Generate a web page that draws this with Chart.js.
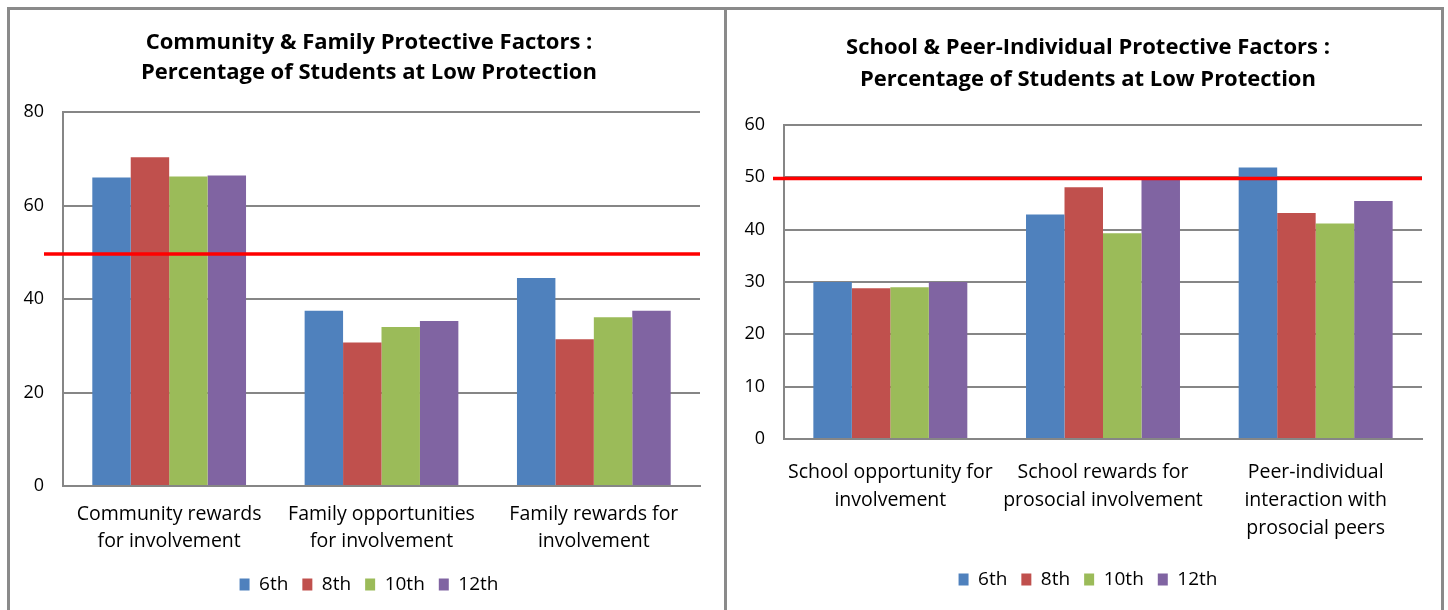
<!DOCTYPE html>
<html>
<head>
<meta charset="utf-8">
<script src="https://cdn.jsdelivr.net/npm/chart.js@4.4.1/dist/chart.umd.min.js"></script>
<style>
  html, body { margin: 0; padding: 0; background: #fff; }
  body { width: 1448px; height: 610px; position: relative; overflow: hidden; }
  .panel { position: absolute; top: 7px; height: 620px; box-sizing: border-box;
           border-top: 3px solid #8a8a8a; border-left: 3px solid #8a8a8a; }
  #leftPanel { left: 7px; width: 720px; }
  #rightPanel { left: 724px; width: 720px; border-right: 3px solid #8a8a8a; }
  canvas { position: absolute; left: 0; top: 0; }
</style>
</head>
<body>
<div class="panel" id="leftPanel"><canvas id="leftChart" width="715" height="600"></canvas></div>
<div class="panel" id="rightPanel"><canvas id="rightChart" width="714" height="600"></canvas></div>
<script>
// grades (legend)
const grades = ["6th", "8th", "10th", "12th"];
const gradeColors = ["#4f81bd", "#c0504d", "#9bbb59", "#8064a2"];

// left chart
const leftTitle = ["Community & Family Protective Factors :", "Percentage of Students at Low Protection"];
const leftCategories = [
  ["Community rewards", "for involvement"],
  ["Family opportunities", "for involvement"],
  ["Family rewards for", "involvement"]
];
const left6th = [66.0, 37.5, 44.5];
const left8th = [70.3, 30.7, 31.4];
const left10th = [66.2, 34.0, 36.1];
const left12th = [66.4, 35.3, 37.5];
const leftTicks = [0, 20, 40, 60, 80];
const leftThreshold = 49.6;

// right chart
const rightTitle = ["School & Peer-Individual Protective Factors :", "Percentage of Students at Low Protection"];
const rightCategories = [
  ["School opportunity for", "involvement"],
  ["School rewards for", "prosocial involvement"],
  ["Peer-individual", "interaction with", "prosocial peers"]
];
const right6th = [30.0, 42.9, 51.9];
const right8th = [28.8, 48.1, 43.2];
const right10th = [29.0, 39.3, 41.2];
const right12th = [30.0, 49.8, 45.5];
const rightTicks = [0, 10, 20, 30, 40, 50, 60];
const rightThreshold = 49.8;

const FONT = "'Open Sans', 'Noto Sans', sans-serif";

// red reference line drawn across the plot, from the y scale
const thresholdLine = {
  id: "thresholdLine",
  afterDatasetsDraw(chart, args, opts) {
    const { ctx, chartArea, scales } = chart;
    const y = scales.y.getPixelForValue(opts.value);
    ctx.save();
    ctx.strokeStyle = "#ff0000";
    ctx.lineWidth = 3.5;
    ctx.beginPath();
    ctx.moveTo(chartArea.left - opts.overhang, y);
    ctx.lineTo(chartArea.right, y);
    ctx.stroke();
    ctx.restore();
  }
};

// title and legend are centred on the panel, not on the plot
const recenter = {
  id: "recenter",
  afterLayout(chart, args, opts) {
    [chart.titleBlock, chart.legend].forEach(box => {
      if (!box) return;
      const dx = opts.center - (box.left + box.right) / 2;
      box.left += dx;
      box.right += dx;
    });
  }
};

function buildChart(id, cfg) {
  const seriesList = cfg.series;
  const datasets = grades.map((g, i) => ({
    label: g,
    data: seriesList[i],
    backgroundColor: gradeColors[i],
    borderWidth: 0,
    barPercentage: 1,
    categoryPercentage: 0.724
  }));

  return new Chart(document.getElementById(id), {
    type: "bar",
    data: { labels: cfg.categories, datasets: datasets },
    plugins: [thresholdLine, recenter],
    options: {
      responsive: false,
      animation: false,
      layout: { padding: cfg.padding },
      plugins: {
        title: {
          display: true,
          text: cfg.title,
          color: "#000",
          font: { family: FONT, size: 22, weight: "bold", lineHeight: cfg.titleLine },
          padding: cfg.titlePadding
        },
        legend: {
          position: "bottom",
          labels: {
            color: "#000",
            font: { family: FONT, size: 19 },
            boxWidth: 10,
            boxHeight: 12,
            padding: 14
          }
        },
        tooltip: { enabled: false },
        thresholdLine: { value: cfg.threshold, overhang: cfg.overhang },
        recenter: { center: cfg.center }
      },
      scales: {
        x: {
          grid: { display: false, drawTicks: false },
          border: { display: true, color: "#868686", width: 2 },
          ticks: {
            color: "#000",
            padding: cfg.xPad,
            maxRotation: 0,
            autoSkip: false,
            font: { family: FONT, size: 19.5, lineHeight: cfg.xLine }
          },
          afterFit: s => { s.height = cfg.xHeight; }
        },
        y: {
          min: cfg.ticks[0],
          max: cfg.ticks[cfg.ticks.length - 1],
          afterBuildTicks: s => { s.ticks = cfg.ticks.map(v => ({ value: v })); },
          grid: { color: "#868686", lineWidth: 2, drawTicks: false },
          border: { display: true, color: "#868686", width: 2 },
          ticks: {
            color: "#000",
            padding: 19,
            font: { family: FONT, size: 18 }
          },
          afterFit: s => { s.width = cfg.yWidth; }
        }
      }
    }
  });
}

buildChart("leftChart", {
  title: leftTitle,
  categories: leftCategories,
  series: [left6th, left8th, left10th, left12th],
  ticks: leftTicks,
  threshold: leftThreshold,
  overhang: 19,
  center: 359,
  padding: { left: 8, right: 25, top: 0, bottom: 6 },
  titleLine: 30 / 22,
  titlePadding: { top: 18, bottom: 24 },
  xPad: 15,
  xLine: 27 / 19.5,
  xHeight: 75,
  yWidth: 45
});

buildChart("rightChart", {
  title: rightTitle,
  categories: rightCategories,
  series: [right6th, right8th, right10th, right12th],
  ticks: rightTicks,
  threshold: rightThreshold,
  overhang: 11,
  center: 361,
  padding: { left: 8, right: 19, top: 0, bottom: 11 },
  titleLine: 32 / 22,
  titlePadding: { top: 22, bottom: 29 },
  xPad: 19,
  xLine: 28 / 19.5,
  xHeight: 117,
  yWidth: 49
});
</script>
</body>
</html>
